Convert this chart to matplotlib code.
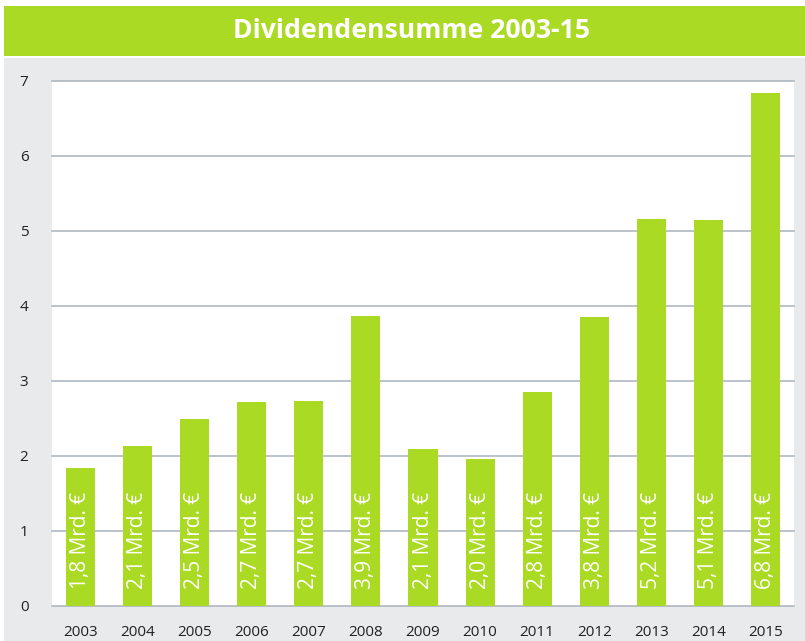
import matplotlib.pyplot as plt
from matplotlib.patches import Rectangle

# Dividendensumme je Jahr in Mrd. Euro
years = ['2003', '2004', '2005', '2006', '2007', '2008', '2009',
         '2010', '2011', '2012', '2013', '2014', '2015']
values = [1.83, 2.13, 2.49, 2.71, 2.73, 3.86, 2.09,
          1.96, 2.85, 3.85, 5.16, 5.14, 6.84]
labels = ['1,8', '2,1', '2,5', '2,7', '2,7', '3,9', '2,1',
          '2,0', '2,8', '3,8', '5,2', '5,1', '6,8']
title = 'Dividendensumme 2003-15'

green = '#abda24'
grey_bg = '#e9eaec'
grid_col = '#a8b1bb'

W, H = 805, 641
fig = plt.figure(figsize=(W / 100, H / 100), dpi=100, facecolor='white')

# grauer Hintergrund und gruener Kopf
fig.patches.append(Rectangle((4 / W, 0), 1, (H - 58) / H, transform=fig.transFigure,
                             facecolor=grey_bg, edgecolor='none', zorder=0))
fig.patches.append(Rectangle((4 / W, (H - 56) / H), 1, 50 / H, transform=fig.transFigure,
                             facecolor=green, edgecolor='none', zorder=0))
fig.text(411 / W, (H - 31) / H, title, color='white', fontsize=19.2, fontweight='bold',
         family='Open Sans', ha='center', va='center')

ax = fig.add_axes([52 / W, (H - 605.7) / H, 742 / W, 525 / H])
ax.set_zorder(2)
ax.set_facecolor('white')
x = range(len(years))
ax.bar(x, values, width=0.51, color=green, zorder=3)
for i, v in enumerate(values):
    ax.text(i, 0.22, labels[i] + ' Mrd. €', rotation=90, ha='center', va='bottom',
            color='white', fontsize=15, family='Open Sans', zorder=4)

for t in range(8):
    ax.axhline(t, color=grid_col, lw=1.1, clip_on=False, zorder=2)

ax.set_xlim(-0.5, 12.5)
ax.set_ylim(0, 7)
ax.set_xticks(list(x))
ax.set_xticklabels(years)
ax.set_yticks(range(8))
for s in ax.spines.values():
    s.set_visible(False)
ax.tick_params(axis='both', length=0, labelsize=11, labelcolor='#222222')
ax.tick_params(axis='x', pad=14)
ax.tick_params(axis='y', pad=17)
for lab in ax.get_xticklabels() + ax.get_yticklabels():
    lab.set_family('Open Sans')

fig.savefig('out.png', dpi=100)
